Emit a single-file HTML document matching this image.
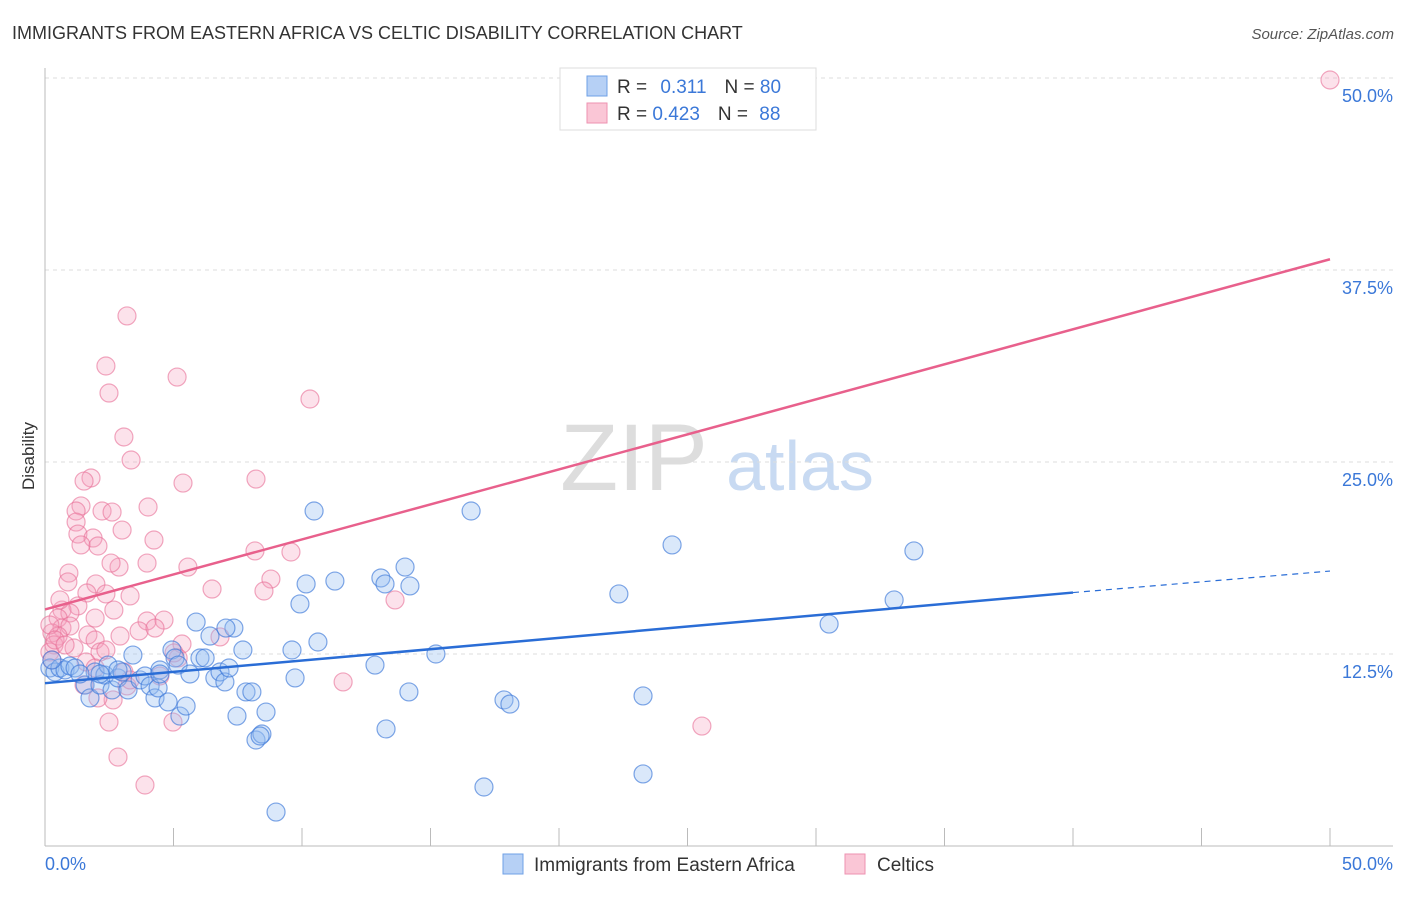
<!DOCTYPE html>
<html><head><meta charset="utf-8"><style>
body{margin:0;background:#fff;font-family:"Liberation Sans",sans-serif;}
svg text{font-family:"Liberation Sans",sans-serif;}
</style></head><body>
<svg id="c" width="1406" height="892">
<text x="12" y="39" font-size="18" fill="#333">IMMIGRANTS FROM EASTERN AFRICA VS CELTIC DISABILITY CORRELATION CHART</text>
<text x="1394" y="39" font-size="15" fill="#555" font-style="italic" text-anchor="end">Source: ZipAtlas.com</text>
<g><text x="634" y="490" font-size="95" fill="#ddd" font-family="Liberation Serif,serif" text-anchor="middle">ZIP</text><text x="800" y="490" font-size="70" fill="#c8daf2" text-anchor="middle">atlas</text></g>
<g id="grid"></g>
<line x1="45" y1="68" x2="45" y2="846" stroke="#bbb"/>
<line x1="45" y1="846" x2="1393" y2="846" stroke="#bbb"/>
<g id="xt"></g>
<text transform="translate(34,456) rotate(-90)" font-size="17" fill="#333" text-anchor="middle">Disability</text>
<text x="45" y="870" font-size="18" fill="#3b78d8">0.0%</text>
<text x="1393" y="870" font-size="18" fill="#3b78d8" text-anchor="end">50.0%</text>
<g id="pts"></g>
<g id="lines"></g>
<g>
<rect x="560" y="68" width="256" height="62" fill="#fff" stroke="#ddd"/>
<rect x="587" y="76" width="20" height="20" fill="#b6d0f5" stroke="#6fa0e6"/>
<rect x="587" y="103" width="20" height="20" fill="#fac6d6" stroke="#ee92b0"/>
<text x="617" y="93" font-size="19" fill="#333">R = <tspan fill="#3b78d8" dx="8">0.311</tspan><tspan dx="18" fill="#333">N = </tspan><tspan fill="#3b78d8">80</tspan></text>
<text x="617" y="120" font-size="19" fill="#333">R = <tspan fill="#3b78d8">0.423</tspan><tspan dx="18" fill="#333">N = </tspan><tspan fill="#3b78d8" dx="6">88</tspan></text>
</g>
<g>
<rect x="503" y="854" width="20" height="20" fill="#b6d0f5" stroke="#6fa0e6"/>
<text x="534" y="871" font-size="19" fill="#333">Immigrants from Eastern Africa</text>
<rect x="845" y="854" width="20" height="20" fill="#fac6d6" stroke="#ee92b0"/>
<text x="877" y="871" font-size="19" fill="#333">Celtics</text>
</g>
</svg>
<script>
const yTicks=[12.5,25,37.5,50];
const yTickLabels=["12.5%","25.0%","37.5%","50.0%"];
const xTicks=[0,5,10,15,20,25,30,35,40,45,50];
const bluePx=[[50,668],[55,672],[60,668],[65,670],[70,666],[75,668],[52,660],[85,685],[90,698],[95,672],[100,685],[105,675],[108,665],[112,690],[118,678],[122,672],[128,690],[133,655],[140,680],[145,676],[150,686],[155,698],[158,688],[160,670],[168,702],[172,650],[175,658],[178,665],[180,716],[186,706],[190,674],[196,622],[200,658],[205,658],[210,636],[215,678],[220,672],[225,682],[229,668],[234,628],[237,716],[243,650],[246,692],[252,692],[256,740],[262,734],[266,712],[292,650],[295,678],[300,604],[306,584],[314,511],[318,642],[335,581],[375,665],[381,578],[385,584],[386,729],[405,567],[409,692],[410,586],[436,654],[471,511],[484,787],[504,700],[510,704],[619,594],[643,696],[643,774],[672,545],[829,624],[894,600],[914,551],[276,812],[226,628],[160,674],[260,736],[100,674],[80,674],[118,670]];
const pinkPx=[[1330,80],[127,316],[106,366],[109,393],[177,377],[310,399],[124,437],[131,460],[91,478],[84,481],[183,483],[256,479],[81,506],[76,511],[148,507],[102,511],[112,512],[76,522],[78,534],[122,530],[93,538],[98,546],[81,545],[154,540],[255,551],[291,552],[119,567],[111,563],[147,563],[188,567],[69,573],[68,582],[271,579],[96,584],[212,589],[264,591],[395,600],[87,593],[106,594],[130,596],[78,606],[62,610],[70,613],[58,618],[114,610],[147,621],[164,620],[62,628],[70,626],[52,633],[58,636],[88,635],[95,640],[120,636],[139,631],[155,628],[182,644],[220,637],[54,645],[74,648],[100,652],[106,650],[50,652],[52,660],[86,662],[95,668],[178,658],[174,653],[124,672],[160,676],[127,686],[343,682],[702,726],[109,722],[173,722],[113,700],[98,698],[118,757],[145,785],[50,625],[55,640],[60,600],[95,618],[65,645],[84,685],[130,680]];
// convert read pixel estimates into data values (percent)
const blueX=bluePx.map(p=>+((p[0]-45)/25.7).toFixed(2));
const blueY=bluePx.map(p=>+((846-p[1])/15.36).toFixed(2));
const pinkX=pinkPx.map(p=>+((p[0]-45)/25.7).toFixed(2));
const pinkY=pinkPx.map(p=>+((846-p[1])/15.36).toFixed(2));
const blueTrend=[[0,10.6],[40,16.5],[50,17.9]];
const pinkTrend=[[0,15.4],[50,38.2]];
const NS="http://www.w3.org/2000/svg";
const xs=v=>45+v*25.7, ys=v=>846-v*15.36;
function mk(t,a,p){const e=document.createElementNS(NS,t);for(const k in a)e.setAttribute(k,a[k]);p.appendChild(e);return e;}
const grid=document.getElementById('grid');
yTicks.forEach((t,i)=>{
 const l=mk('line',{x1:45,x2:1393,y1:ys(t),y2:ys(t),stroke:'#ddd','stroke-dasharray':'4,4'},grid);
 
 
 const tx=mk('text',{x:1393,y:ys(t)+24,'font-size':18,fill:'#3b78d8','text-anchor':'end'},grid);
 tx.textContent=yTickLabels[i];
 
 
});
const xt=document.getElementById('xt');
xTicks.forEach(t=>{
 const l=mk('line',{x1:xs(t),x2:xs(t),y1:828,y2:846,stroke:'#bbb'},xt);
 
 
});
const pts=document.getElementById('pts');
pinkX.forEach((x,i)=>{
 const c=mk('circle',{cx:xs(x),cy:ys(pinkY[i]),r:9,fill:'rgba(246,160,188,0.3)',stroke:'rgba(232,110,150,0.6)','stroke-width':1.2},pts);
 
 
});
blueX.forEach((x,i)=>{
 const c=mk('circle',{cx:xs(x),cy:ys(blueY[i]),r:9,fill:'rgba(150,190,240,0.35)',stroke:'rgba(60,120,216,0.65)','stroke-width':1.2},pts);
 
 
});
const lines=document.getElementById('lines');
let l1=mk('line',{x1:xs(blueTrend[0][0]),y1:ys(blueTrend[0][1]),x2:xs(blueTrend[1][0]),y2:ys(blueTrend[1][1]),stroke:'#2a6dd6','stroke-width':2.5},lines);


let l2=mk('line',{x1:xs(blueTrend[1][0]),y1:ys(blueTrend[1][1]),x2:xs(blueTrend[2][0]),y2:ys(blueTrend[2][1]),stroke:'#2a6dd6','stroke-width':1.2,'stroke-dasharray':'6,5'},lines);


let l3=mk('line',{x1:xs(pinkTrend[0][0]),y1:ys(pinkTrend[0][1]),x2:xs(pinkTrend[1][0]),y2:ys(pinkTrend[1][1]),stroke:'#e8608c','stroke-width':2.5},lines);


</script>
</body></html>
